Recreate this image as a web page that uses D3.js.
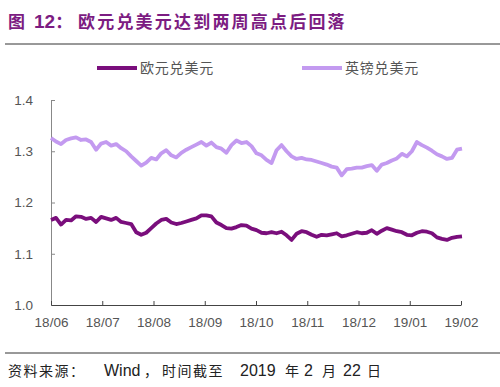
<!DOCTYPE html>
<html>
<head>
<meta charset="utf-8">
<script src="https://cdn.jsdelivr.net/npm/d3@7"></script>
<style>
  body { margin: 0; background: #fff; }
  svg { display: block; font-family: "Liberation Sans", Arial, "Noto Sans CJK SC", sans-serif; }
  .cjk { font-family: "Noto Sans CJK SC", sans-serif; }
</style>
</head>
<body>
<svg width="500" height="387"></svg>
<script>
// month labels on the x axis
const tickLabels = ["18/06", "18/07", "18/08", "18/09", "18/10", "18/11", "18/12", "19/01", "19/02"]
const yTicks = [1.0, 1.1, 1.2, 1.3, 1.4]

// EUR/USD
const eurusd = [
  1.166, 1.170, 1.157, 1.166, 1.165, 1.173, 1.172, 1.168, 1.170, 1.162,
  1.172, 1.169, 1.166, 1.170, 1.162, 1.160, 1.158, 1.142, 1.137, 1.141,
  1.150, 1.159, 1.166, 1.168, 1.161, 1.158, 1.160, 1.163, 1.166, 1.169,
  1.175, 1.175, 1.173, 1.161, 1.156, 1.150, 1.149, 1.152, 1.156, 1.155,
  1.149, 1.146, 1.141, 1.140, 1.142, 1.140, 1.143, 1.136, 1.127, 1.139,
  1.144, 1.142, 1.137, 1.133, 1.137, 1.136, 1.138, 1.140, 1.134, 1.136,
  1.139, 1.142, 1.140, 1.141, 1.146, 1.139, 1.145, 1.150, 1.147, 1.144,
  1.142, 1.137, 1.136, 1.141, 1.144, 1.143, 1.140, 1.132, 1.129, 1.127,
  1.131, 1.133, 1.134
]

// GBP/USD
const gbpusd = [
  1.326, 1.319, 1.314, 1.322, 1.325, 1.327, 1.322, 1.323, 1.318, 1.303,
  1.315, 1.318, 1.311, 1.314, 1.306, 1.300, 1.290, 1.281, 1.272, 1.278,
  1.287, 1.284, 1.296, 1.302, 1.292, 1.288, 1.297, 1.303, 1.308, 1.313,
  1.318, 1.311, 1.317, 1.308, 1.305, 1.297, 1.312, 1.321, 1.316, 1.318,
  1.310, 1.296, 1.292, 1.283, 1.277, 1.302, 1.312, 1.300, 1.290, 1.285,
  1.287, 1.284, 1.283, 1.280, 1.277, 1.274, 1.270, 1.268, 1.253, 1.265,
  1.266, 1.268, 1.268, 1.271, 1.273, 1.262, 1.274, 1.277, 1.282, 1.286,
  1.295, 1.290, 1.300, 1.318, 1.312, 1.307, 1.301, 1.294, 1.290, 1.285,
  1.287, 1.303, 1.305
]

const series = [
  { name: "欧元兑美元", values: eurusd, color: "#7a0e7c" },
  { name: "英镑兑美元", values: gbpusd, color: "#c39af0" }
]

const svg = d3.select("svg")
const plotLeft = 51, plotRight = 461, plotTop = 100, plotBottom = 305
const n = eurusd.length

const x = d3.scaleLinear().domain([0, n - 1]).range([plotLeft, plotRight + 1])
const y = d3.scaleLinear().domain([1.0, 1.4]).range([plotBottom, plotTop])

// title
const title = svg.append("text")
    .attr("x", 8).attr("y", 28)
    .attr("fill", "#7c1c82")
    .style("font-size", "17px")
    .style("font-weight", "bold")
title.append("tspan").attr("class", "cjk").text("图")
title.append("tspan").attr("x", 34).style("font-size", "19px").text("12")
title.append("tspan").attr("class", "cjk").text("：")
title.append("tspan").attr("class", "cjk").attr("x", 78)
    .style("letter-spacing", "2.2px").text("欧元兑美元达到两周高点后回落")

svg.append("line")
    .attr("x1", 5).attr("x2", 500).attr("y1", 44).attr("y2", 44)
    .attr("stroke", "#333").attr("stroke-width", 1)

// legend
const legend = svg.append("g")
series.forEach((s, i) => {
    const lx = i == 0 ? 97 : 302
    legend.append("line")
        .attr("x1", lx).attr("x2", lx + 40).attr("y1", 68).attr("y2", 68)
        .attr("stroke", s.color).attr("stroke-width", 4)
    legend.append("text")
        .attr("class", "cjk")
        .attr("x", lx + 43).attr("y", 73)
        .attr("fill", "#555")
        .style("font-size", "14px")
        .style("letter-spacing", "0.8px")
        .text(s.name)
})

// axes
const yAxis = svg.append("g")
    .attr("transform", `translate(${plotLeft},0)`)
    .call(d3.axisRight(y).tickValues(yTicks).tickSize(4).tickFormat(d3.format(".1f")))
yAxis.select(".domain").attr("stroke", "#888")
yAxis.selectAll(".tick line").attr("stroke", "#888")
yAxis.selectAll(".tick text")
    .attr("x", -18).attr("text-anchor", "end")
    .attr("fill", "#555").style("font-size", "13.5px")

const tickIdx = tickLabels.map((d, i) => i * (n - 1) / (tickLabels.length - 1))
const xAxis = svg.append("g")
    .attr("transform", `translate(0,${plotBottom})`)
    .call(d3.axisTop(x.copy().range([plotLeft, plotRight])).tickValues(tickIdx).tickSize(4).tickSizeOuter(0)
        .tickFormat((d, i) => tickLabels[i]))
xAxis.select(".domain").attr("stroke", "#444")
xAxis.selectAll(".tick line").attr("stroke", "#444")
xAxis.selectAll(".tick text")
    .attr("y", 22).attr("fill", "#555").style("font-size", "13.5px")

// lines
const line = d3.line()
    .x((d, i) => x(i))
    .y(d => y(d))

series.forEach(s => {
    svg.append("path")
        .datum(s.values)
        .attr("fill", "none")
        .attr("stroke", s.color)
        .attr("stroke-width", 3.8)
        .attr("stroke-linejoin", "round")
        .attr("d", line)
})

// footer
svg.append("line")
    .attr("x1", 5).attr("x2", 500).attr("y1", 353).attr("y2", 353)
    .attr("stroke", "#333").attr("stroke-width", 1)

const src = svg.append("text")
    .attr("x", 8).attr("y", 376)
    .attr("fill", "#222")
    .style("font-size", "16px")
const cjkPart = (t, xpos) => {
    const ts = src.append("tspan").attr("class", "cjk")
        .style("font-size", "14px").style("letter-spacing", "1.5px").text(t)
    if (xpos != null) ts.attr("x", xpos)
}
cjkPart("资料来源：")
src.append("tspan").attr("x", 104).text("Wind")
cjkPart("，", 144)
cjkPart("时间截至", 162)
src.append("tspan").attr("x", 240).text("2019")
cjkPart("年", 285)
src.append("tspan").attr("x", 304).text("2")
cjkPart("月", 322)
src.append("tspan").attr("x", 343).text("22")
cjkPart("日", 367)
</script>
</body>
</html>
